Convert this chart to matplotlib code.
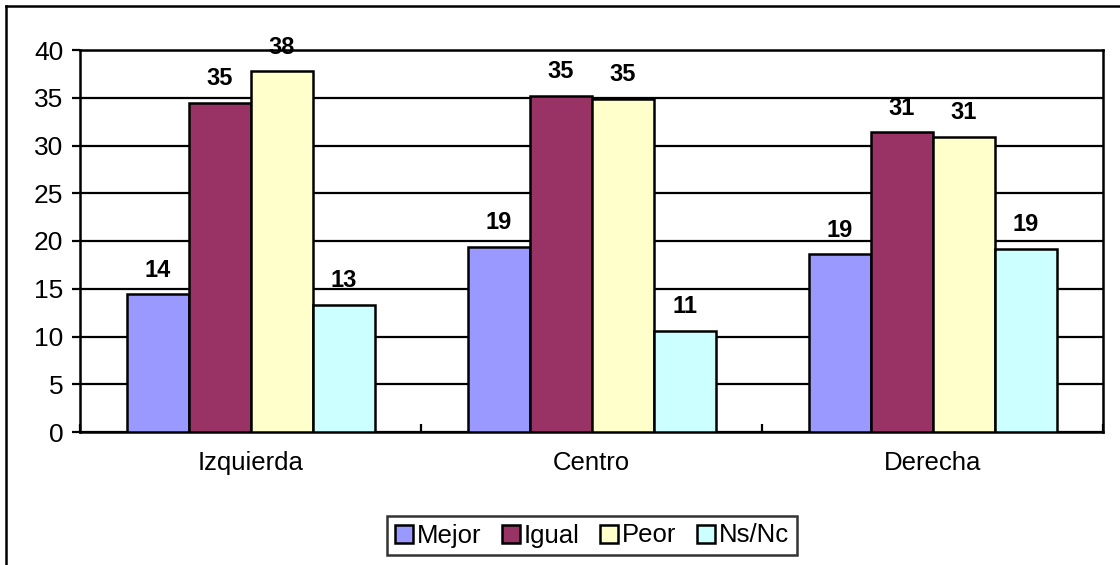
import matplotlib
matplotlib.use("Agg")
import matplotlib.pyplot as plt
from matplotlib.lines import Line2D
from matplotlib.patches import Patch
import numpy as np

plt.rcParams['font.family'] = ['Liberation Sans', 'DejaVu Sans']

# data
categories = ["Izquierda", "Centro", "Derecha"]
series = ["Mejor", "Igual", "Peor", "Ns/Nc"]
mejor = [14.4, 19.4, 18.6]
igual = [34.5, 35.2, 31.4]
peor = [37.8, 34.9, 30.9]
nsnc = [13.3, 10.6, 19.2]
labels = [[14, 19, 19], [35, 35, 31], [38, 35, 31], [13, 11, 19]]
colors = ["#9999FF", "#993366", "#FFFFCC", "#CCFFFF"]

values = [mejor, igual, peor, nsnc]

fig = plt.figure(figsize=(11.2, 5.65), dpi=100)
ax = fig.add_axes([80/1120, 1-432/565, (1103-80)/1120, (432-50)/565])

x = np.arange(len(categories))
w = 1/5.5
for i, (vals, c) in enumerate(zip(values, colors)):
    bars = ax.bar(x + (i-1.5)*w, vals, w, color=c, edgecolor="black",
                  linewidth=1.8, zorder=3, label=series[i])
    for b, lab in zip(bars, labels[i]):
        ax.annotate(str(lab), (b.get_x()+b.get_width()/2, b.get_height()),
                    xytext=(0, 9), textcoords="offset points",
                    ha="center", va="bottom", fontsize=17, fontweight="bold")

ax.set_ylim(0, 40)
ax.set_xlim(-0.5, 2.5)
ax.set_yticks(range(0, 41, 5))
ax.yaxis.grid(True, color="black", linewidth=1.6, zorder=0)
ax.set_axisbelow(True)
ax.tick_params(axis="y", labelsize=19, length=6, width=1.6, pad=6, direction="out")

ax.set_xticks([-0.5, 0.5, 1.5, 2.5])
ax.set_xticklabels([])
ax.tick_params(axis="x", which="major", length=6, width=1.6, direction="in")
ax.set_xticks(x, minor=True)
ax.set_xticklabels(categories, minor=True)
ax.tick_params(axis="x", which="minor", length=0, labelsize=18.5, pad=14)

for s in ax.spines.values():
    s.set_linewidth(1.8)
    s.set_color("black")

handles = [Patch(facecolor=c, edgecolor="black", linewidth=1.8) for c in colors]
leg = fig.legend(handles, series, loc="center", bbox_to_anchor=(592/1120, 1-535.5/565),
                 ncol=4, fontsize=18.5, frameon=True, fancybox=False,
                 handlelength=0.7, handleheight=0.7, handletextpad=0.15,
                 columnspacing=0.8, borderpad=0.3, borderaxespad=0)
leg.get_frame().set_edgecolor("black")
leg.get_frame().set_linewidth(1.8)

# outer chart frame (cropped on right and bottom)
fig.add_artist(Line2D([6/1120, 6/1120], [0, 1-6/565], color="black", linewidth=1.8,
                      transform=fig.transFigure))
fig.add_artist(Line2D([6/1120, 1], [1-6/565, 1-6/565], color="black", linewidth=1.8,
                      transform=fig.transFigure))

fig.savefig("out.png", dpi=100)
